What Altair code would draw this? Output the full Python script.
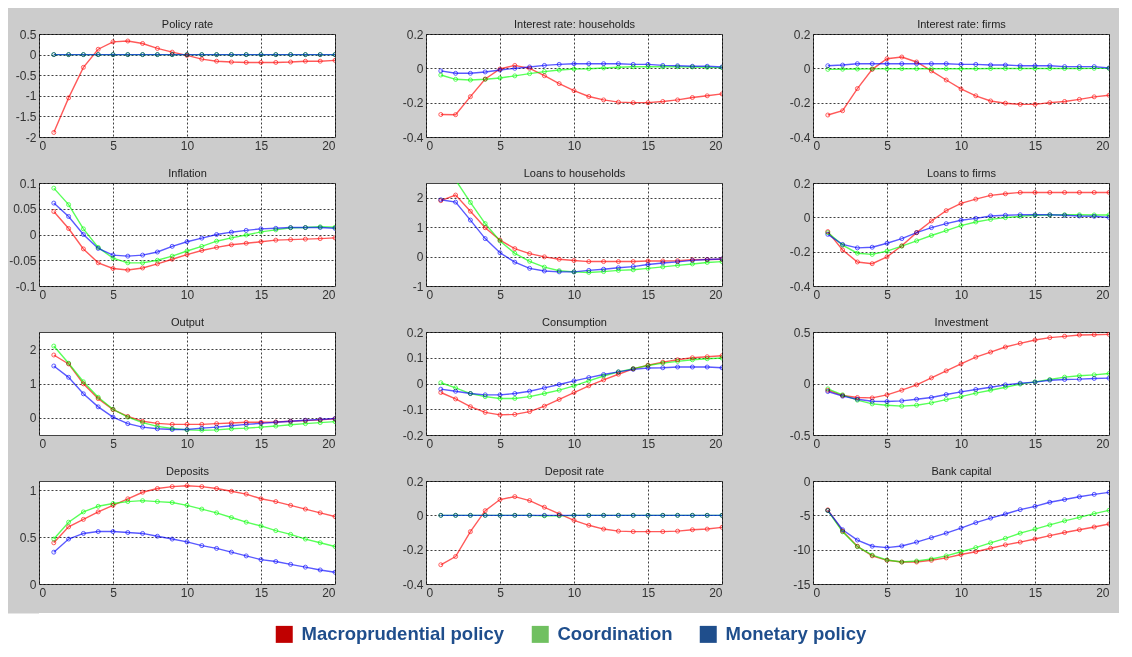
import altair as alt
import pandas as pd

periods = list(range(1, 21))
series_codes = ["macro", "coord", "mon"]
series_names = ["Macroprudential policy", "Coordination", "Monetary policy"]
line_colors = ["#ff0000", "#00ff00", "#0000ff"]
legend_colors = ["#c00000", "#70c060", "#1f4e8c"]

# Policy rate
policy_macro = [-1.89, -1.05, -0.31, 0.13, 0.31, 0.33, 0.27, 0.15, 0.06, -0.02, -0.11, -0.16, -0.18, -0.19, -0.19, -0.19, -0.18, -0.16, -0.16, -0.14]
policy_coord = [0.0] * 20
policy_mon = [0.0] * 20
# Interest rate: households
irh_macro = [-0.269, -0.27, -0.165, -0.062, -0.004, 0.017, 0.0, -0.043, -0.089, -0.13, -0.164, -0.184, -0.197, -0.2, -0.2, -0.193, -0.184, -0.17, -0.16, -0.149]
irh_coord = [-0.039, -0.064, -0.068, -0.064, -0.056, -0.044, -0.031, -0.019, -0.01, -0.004, -0.002, 0.002, 0.006, 0.009, 0.009, 0.009, 0.009, 0.008, 0.006, 0.004]
irh_mon = [-0.015, -0.029, -0.029, -0.021, -0.01, 0.0, 0.008, 0.017, 0.023, 0.027, 0.027, 0.027, 0.027, 0.023, 0.023, 0.017, 0.015, 0.012, 0.012, 0.008]
# Interest rate: firms
irf_macro = [-0.272, -0.247, -0.118, -0.006, 0.056, 0.066, 0.037, -0.015, -0.068, -0.12, -0.16, -0.19, -0.203, -0.21, -0.21, -0.2, -0.193, -0.181, -0.166, -0.157]
irf_coord = [-0.006, -0.005, -0.004, -0.003, -0.003, -0.002, -0.002, -0.002, -0.002, -0.002, -0.002, -0.001, -0.001, -0.001, -0.001, -0.001, -0.001, -0.001, 0.0, 0.0]
irf_mon = [0.015, 0.019, 0.027, 0.027, 0.027, 0.027, 0.027, 0.027, 0.027, 0.023, 0.023, 0.019, 0.019, 0.015, 0.015, 0.015, 0.01, 0.01, 0.01, 0.002]
# Inflation
infl_macro = [0.0445, 0.0116, -0.028, -0.055, -0.066, -0.069, -0.065, -0.057, -0.048, -0.039, -0.031, -0.025, -0.02, -0.017, -0.014, -0.011, -0.01, -0.009, -0.008, -0.0065]
infl_coord = [0.09, 0.058, 0.011, -0.025, -0.046, -0.055, -0.055, -0.05, -0.042, -0.032, -0.023, -0.013, -0.0065, -0.001, 0.005, 0.009, 0.013, 0.0135, 0.015, 0.014]
infl_mon = [0.061, 0.035, 0.0, -0.027, -0.04, -0.042, -0.04, -0.034, -0.023, -0.014, -0.007, 0.0, 0.0045, 0.008, 0.011, 0.012, 0.0135, 0.0135, 0.0135, 0.012]
# Loans to households
lh_macro = [1.9, 2.09, 1.54, 0.98, 0.56, 0.27, 0.1, -0.01, -0.09, -0.135, -0.17, -0.17, -0.17, -0.17, -0.15, -0.15, -0.14, -0.11, -0.1, -0.09]
lh_coord = [3.1, 2.6, 1.84, 1.12, 0.53, 0.11, -0.16, -0.36, -0.48, -0.52, -0.54, -0.51, -0.47, -0.45, -0.4, -0.35, -0.3, -0.25, -0.2, -0.17]
lh_mon = [1.93, 1.85, 1.24, 0.61, 0.13, -0.19, -0.4, -0.49, -0.52, -0.52, -0.47, -0.43, -0.38, -0.34, -0.27, -0.22, -0.18, -0.13, -0.1, -0.08]
# Loans to firms
lf_macro = [-0.083, -0.19, -0.26, -0.27, -0.23, -0.166, -0.089, -0.021, 0.039, 0.081, 0.106, 0.128, 0.137, 0.145, 0.145, 0.145, 0.145, 0.145, 0.145, 0.145]
lf_coord = [-0.089, -0.162, -0.209, -0.216, -0.197, -0.168, -0.137, -0.106, -0.077, -0.048, -0.027, -0.012, -0.002, 0.006, 0.012, 0.014, 0.015, 0.015, 0.014, 0.014]
lf_mon = [-0.099, -0.158, -0.178, -0.174, -0.151, -0.124, -0.089, -0.06, -0.037, -0.017, -0.006, 0.008, 0.012, 0.015, 0.015, 0.015, 0.012, 0.008, 0.006, 0.0]
# Output
out_macro = [1.83, 1.57, 0.99, 0.56, 0.24, 0.04, -0.1, -0.16, -0.19, -0.19, -0.19, -0.17, -0.15, -0.13, -0.13, -0.12, -0.1, -0.08, -0.06, -0.03]
out_coord = [2.09, 1.59, 1.05, 0.6, 0.25, 0.02, -0.14, -0.25, -0.31, -0.35, -0.36, -0.35, -0.32, -0.3, -0.27, -0.24, -0.2, -0.17, -0.14, -0.11]
out_mon = [1.51, 1.18, 0.7, 0.32, 0.02, -0.17, -0.27, -0.32, -0.34, -0.34, -0.3, -0.27, -0.23, -0.19, -0.16, -0.13, -0.1, -0.07, -0.05, -0.02]
# Consumption
cons_macro = [-0.035, -0.06, -0.09, -0.112, -0.122, -0.12, -0.109, -0.088, -0.062, -0.035, -0.009, 0.014, 0.036, 0.057, 0.071, 0.083, 0.092, 0.1, 0.104, 0.108]
cons_coord = [0.003, -0.017, -0.039, -0.051, -0.058, -0.058, -0.051, -0.039, -0.026, -0.009, 0.01, 0.029, 0.045, 0.058, 0.07, 0.079, 0.086, 0.092, 0.096, 0.099]
cons_mon = [-0.022, -0.03, -0.039, -0.044, -0.044, -0.039, -0.03, -0.017, -0.004, 0.01, 0.023, 0.035, 0.045, 0.055, 0.06, 0.061, 0.064, 0.064, 0.064, 0.061]
# Investment
inv_macro = [-0.065, -0.117, -0.136, -0.14, -0.11, -0.065, -0.013, 0.055, 0.123, 0.19, 0.256, 0.305, 0.354, 0.39, 0.422, 0.445, 0.458, 0.471, 0.474, 0.477]
inv_coord = [-0.052, -0.11, -0.162, -0.198, -0.211, -0.22, -0.211, -0.188, -0.156, -0.127, -0.094, -0.065, -0.036, -0.006, 0.016, 0.039, 0.062, 0.075, 0.084, 0.097]
inv_mon = [-0.078, -0.123, -0.153, -0.172, -0.175, -0.169, -0.153, -0.136, -0.107, -0.081, -0.058, -0.036, -0.013, 0.003, 0.013, 0.032, 0.039, 0.042, 0.049, 0.052]
# Deposits
dep_macro = [0.44, 0.61, 0.69, 0.77, 0.84, 0.91, 0.98, 1.02, 1.04, 1.05, 1.04, 1.02, 0.99, 0.96, 0.91, 0.88, 0.84, 0.8, 0.76, 0.72]
dep_coord = [0.48, 0.66, 0.77, 0.83, 0.86, 0.88, 0.89, 0.88, 0.87, 0.84, 0.8, 0.76, 0.71, 0.66, 0.62, 0.57, 0.53, 0.48, 0.44, 0.4]
dep_mon = [0.34, 0.48, 0.54, 0.56, 0.56, 0.55, 0.54, 0.51, 0.48, 0.45, 0.41, 0.38, 0.34, 0.3, 0.26, 0.24, 0.21, 0.18, 0.15, 0.125]
# Deposit rate
dr_macro = [-0.288, -0.24, -0.095, 0.027, 0.092, 0.109, 0.086, 0.047, 0.008, -0.029, -0.058, -0.08, -0.092, -0.095, -0.095, -0.095, -0.092, -0.084, -0.08, -0.07]
dr_coord = [0.0, 0.0, 0.0, 0.0, 0.0, 0.0, 0.0, -0.003, -0.003, 0.0, 0.0, 0.0, 0.0, 0.0, 0.0, 0.0, 0.0, 0.0, 0.0, 0.0]
dr_mon = [0.0] * 20
# Bank capital
bc_macro = [-4.2, -7.3, -9.5, -10.9, -11.55, -11.8, -11.8, -11.55, -11.2, -10.7, -10.3, -9.8, -9.3, -8.9, -8.45, -7.96, -7.5, -7.1, -6.7, -6.26]
bc_coord = [-4.3, -7.4, -9.56, -10.8, -11.5, -11.8, -11.65, -11.36, -10.9, -10.3, -9.7, -9.0, -8.35, -7.6, -7.0, -6.4, -5.8, -5.3, -4.75, -4.27]
bc_mon = [-4.3, -7.1, -8.6, -9.5, -9.7, -9.46, -8.9, -8.25, -7.6, -6.85, -6.07, -5.4, -4.8, -4.17, -3.7, -3.1, -2.7, -2.3, -1.94, -1.65]

panels = [
    ("Policy rate", policy_macro, policy_coord, policy_mon, [-2, 0.5], [-2, -1.5, -1, -0.5, 0, 0.5]),
    ("Interest rate: households", irh_macro, irh_coord, irh_mon, [-0.4, 0.2], [-0.4, -0.2, 0, 0.2]),
    ("Interest rate: firms", irf_macro, irf_coord, irf_mon, [-0.4, 0.2], [-0.4, -0.2, 0, 0.2]),
    ("Inflation", infl_macro, infl_coord, infl_mon, [-0.1, 0.1], [-0.1, -0.05, 0, 0.05, 0.1]),
    ("Loans to households", lh_macro, lh_coord, lh_mon, [-1, 2.5], [-1, 0, 1, 2]),
    ("Loans to firms", lf_macro, lf_coord, lf_mon, [-0.4, 0.2], [-0.4, -0.2, 0, 0.2]),
    ("Output", out_macro, out_coord, out_mon, [-0.5, 2.5], [0, 1, 2]),
    ("Consumption", cons_macro, cons_coord, cons_mon, [-0.2, 0.2], [-0.2, -0.1, 0, 0.1, 0.2]),
    ("Investment", inv_macro, inv_coord, inv_mon, [-0.5, 0.5], [-0.5, 0, 0.5]),
    ("Deposits", dep_macro, dep_coord, dep_mon, [0, 1.1], [0, 0.5, 1]),
    ("Deposit rate", dr_macro, dr_coord, dr_mon, [-0.4, 0.2], [-0.4, -0.2, 0, 0.2]),
    ("Bank capital", bc_macro, bc_coord, bc_mon, [-15, 0], [-15, -10, -5, 0]),
]

FONT = "Liberation Sans"


def make_panel(title, macro, coord, mon, dom, ticks):
    rows = []
    for code, vals in zip(series_codes, [macro, coord, mon]):
        for t, v in zip(periods, vals):
            rows.append({"t": t, "v": v, "series": code})
    df = pd.DataFrame(rows)
    xscale = alt.Scale(domain=[0, 20], nice=False)
    y = alt.Y("v:Q", scale=alt.Scale(domain=dom, nice=False, zero=False),
              axis=alt.Axis(values=ticks, title=None, labelExpr="'' + datum.value"))
    stroke = alt.Stroke("series:N", scale=alt.Scale(domain=series_codes, range=line_colors), legend=None)
    line = alt.Chart(df).mark_line(strokeWidth=1.4, opacity=0.65, blend="multiply", clip=True).encode(
        x=alt.X("t:Q", scale=xscale, axis=alt.Axis(values=[0, 5, 10, 15, 20], title=None)),
        y=y, stroke=stroke,
    )
    pts = alt.Chart(df).mark_point(size=16, filled=False, strokeWidth=1, opacity=0.65,
                                   blend="multiply", clip=True).encode(
        x=alt.X("t:Q", scale=xscale,
                axis=alt.Axis(orient="top", title=title, labels=False, ticks=False, grid=False,
                              domain=False, minExtent=0, maxExtent=0, titlePadding=5,
                              titleFontSize=11, titleFontWeight="normal", titleColor="#222222",
                              titleFont=FONT)),
        y=y, stroke=stroke,
    )
    return alt.layer(line, pts).resolve_axis(x="independent").properties(width=296, height=103)


charts = [make_panel(*p) for p in panels]
rows = [alt.hconcat(*charts[i:i + 3], spacing=59) for i in range(0, 12, 3)]

legend_df = pd.DataFrame({"policy": series_names, "yy": [0.5, 0.5, 0.5]})
legend_chart = alt.Chart(legend_df).mark_square(opacity=0).encode(
    y=alt.Y("yy:Q", scale=alt.Scale(domain=[0, 1]),
            axis=alt.Axis(title=None, labels=False, ticks=False, grid=False, domain=True,
                          domainColor="white", domainWidth=64, domainCap="butt", domainOpacity=1)),
    color=alt.Color("policy:N", scale=alt.Scale(domain=series_names, range=legend_colors),
                    legend=alt.Legend(title=None, orient="none", legendX=236, legendY=591,
                                      direction="horizontal", symbolType="square", symbolSize=289,
                                      symbolStrokeWidth=0, symbolOpacity=1, labelFontSize=18.5,
                                      labelFontWeight="bold", labelColor="#1f4e8c", labelFont=FONT,
                                      columnPadding=26, labelOffset=8, labelLimit=400, padding=0)),
).properties(
    width=1080, height=33, view=alt.ViewBackground(fill="white", strokeWidth=0)
)

chart = alt.vconcat(*rows, legend_chart, spacing=10).properties(
    background="#cccccc",
    padding={"left": 0, "top": 9, "right": 0, "bottom": 0},
).configure_view(
    fill="white", stroke="#444444", strokeWidth=1
).configure_axis(
    grid=True, gridColor="#000000", gridDash=[2, 2], gridOpacity=0.75, gridWidth=1,
    ticks=False, domain=False, labelFont=FONT, labelFontSize=12, labelColor="#333333",
).configure_axisY(
    minExtent=30, maxExtent=30, labelPadding=3,
).configure_axisX(
    minExtent=18, maxExtent=18, labelPadding=3,
)

chart.save("out.html", embed_options={"renderer": "svg", "actions": False})
